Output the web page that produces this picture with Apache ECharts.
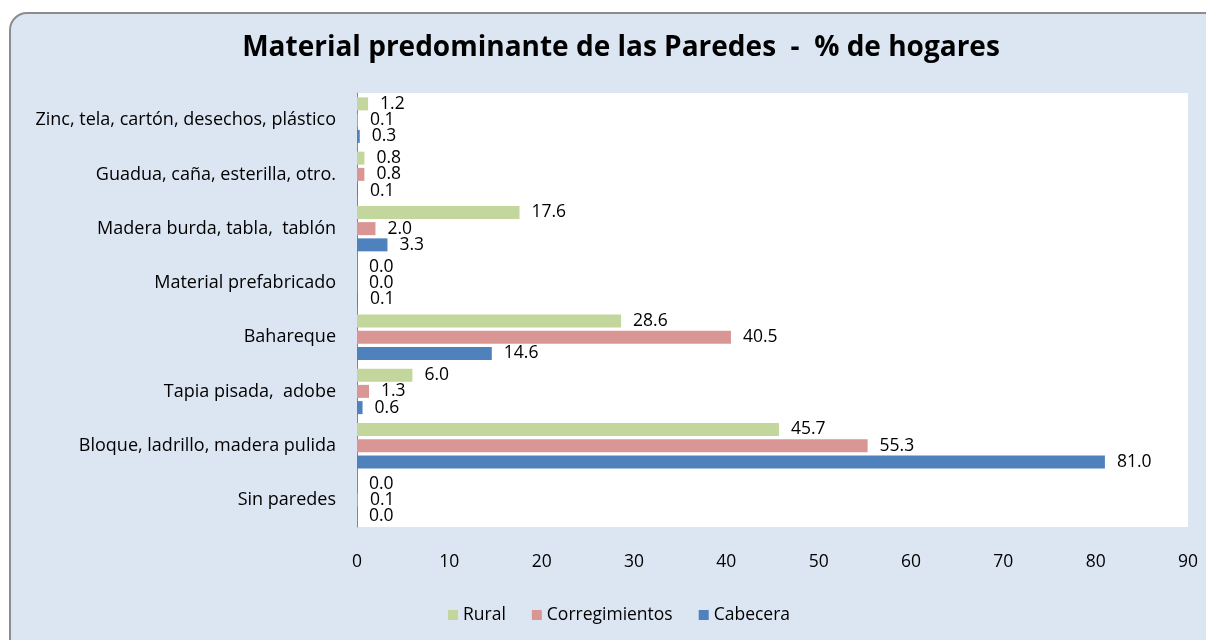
<!DOCTYPE html>
<html>
<head>
<meta charset="utf-8">
<script src="https://cdn.jsdelivr.net/npm/echarts@6/dist/echarts.min.js"></script>
<style>
  html, body { margin: 0; padding: 0; background: #fff; }
  #frame {
    position: absolute; left: 9px; top: 12px; width: 1220px; height: 660px;
    background: #dce6f2; border: 2px solid #8c8c8c; border-radius: 18px; box-sizing: border-box;
  }
  #mychart { position: absolute; left: 0; top: 0; width: 1206px; height: 640px; }
</style>
</head>
<body>
<div id="frame"></div>
<div id="mychart"></div>
<script>
var categories = ['Zinc, tela, cartón, desechos, plástico', 'Guadua, caña, esterilla, otro.',
  'Madera burda, tabla,  tablón', 'Material prefabricado', 'Bahareque', 'Tapia pisada,  adobe',
  'Bloque, ladrillo, madera pulida', 'Sin paredes'];
var rural = [1.2, 0.8, 17.6, 0.0, 28.6, 6.0, 45.7, 0.0];
var corregimientos = [0.1, 0.8, 2.0, 0.0, 40.5, 1.3, 55.3, 0.1];
var cabecera = [0.3, 0.1, 3.3, 0.1, 14.6, 0.6, 81.0, 0.0];

var font = '"Open Sans", sans-serif';
var mychart = echarts.init(document.getElementById('mychart'));

function serie(name, data, color) {
  return {
    name: name, type: 'bar', data: data, barWidth: 13, barGap: '25%',
    itemStyle: { color: color },
    label: {
      show: true, position: 'right', distance: 12, color: '#000',
      fontFamily: font, fontSize: 17.5,
      formatter: function (p) { return p.value.toFixed(1); }
    }
  };
}

var option = {
  animation: false,
  title: {
    text: 'Material predominante de las Paredes  -  % de hogares',
    left: 616, top: 29, textAlign: 'center',
    textStyle: { fontFamily: font, fontSize: 28, fontWeight: 'bold', color: '#000' }
  },
  legend: {
    bottom: 11, left: 443, itemWidth: 10, itemHeight: 10, itemGap: 26,
    icon: 'rect',
    textStyle: { fontFamily: font, fontSize: 17.5, color: '#000' },
    data: ['Rural', 'Corregimientos', 'Cabecera']
  },
  grid: {
    left: 357, right: 18, top: 93, bottom: 113,
    show: true, backgroundColor: '#fff', borderWidth: 0
  },
  xAxis: {
    type: 'value', min: 0, max: 90, interval: 10,
    axisLine: { show: false }, axisTick: { show: false }, splitLine: { show: false },
    axisLabel: { margin: 26, fontFamily: font, fontSize: 17.5, color: '#000' }
  },
  yAxis: {
    type: 'category', inverse: true, data: categories,
    axisLine: { show: true, lineStyle: { color: '#868686', width: 1 } },
    axisTick: { show: false },
    axisLabel: { margin: 21, fontFamily: font, fontSize: 18, color: '#000' }
  },
  series: [
    serie('Rural', rural, '#c3d69b'),
    serie('Corregimientos', corregimientos, '#d99694'),
    serie('Cabecera', cabecera, '#4f81bd')
  ]
};
mychart.setOption(option);
</script>
</body>
</html>
